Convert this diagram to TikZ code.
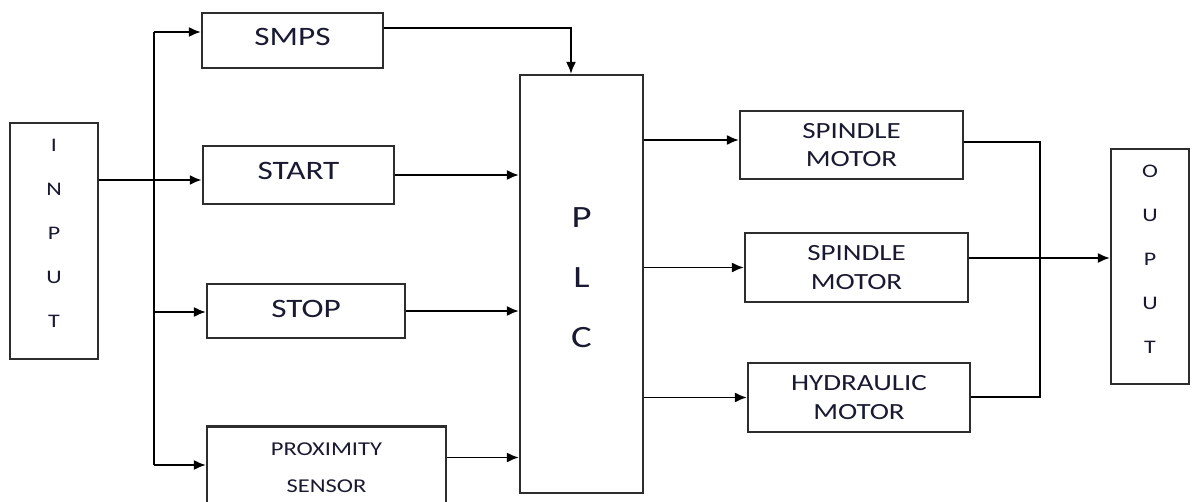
\documentclass[tikz,border=0pt]{standalone}
\usepackage{fontspec}
\setmainfont[FakeStretch=1.25]{Carlito}
\usetikzlibrary{arrows.meta, positioning}
\definecolor{LineGray}{RGB}{45,45,45}
\definecolor{TextNavy}{RGB}{25,25,50}
\newcommand{\lift}[1]{\rule[-#1]{0pt}{0pt}}
\tikzset{
  blk/.style={
    rectangle, draw=LineGray, line width=1.1pt,
    inner sep=0pt, text=TextNavy, align=center
  },
  wire/.style={draw=black, line width=0.9pt},
  arr/.style={-{Latex[length=6pt,width=5pt]}, draw=black, line width=0.9pt},
  big/.style={font=\fontsize{13.3}{16}\selectfont},
  mid/.style={font=\fontsize{11.6}{14.3}\selectfont},
  letters/.style={font=\fontsize{9.6}{22}\selectfont}
}

\begin{document}
\begin{tikzpicture}[x=0.5pt, y=-0.5pt]
  \useasboundingbox (0,0) rectangle (1192,502);

  % Input side
  \node[blk, letters, minimum width=44pt, minimum height=118pt] (inp) at (54,241) {I\\N\\P\\U\\T\lift{8pt}};
  \node[blk, big, minimum width=90.5pt, minimum height=27.5pt] (smps) at (292.5,40.5) {SMPS\lift{4pt}};
  \node[blk, big, minimum width=95.5pt, minimum height=29pt] (start) at (298.5,175) {START\lift{4pt}};
  \node[blk, big, minimum width=99pt, minimum height=27pt] (stop) at (306,311) {STOP\lift{2pt}};
  \node[blk, font=\fontsize{9.8}{18.5}\selectfont, minimum width=119.5pt, minimum height=41pt]
      (prox) at (326.5,467.5) {PROXIMITY\\SENSOR};

  % Controller
  \node[blk, font=\fontsize{15.5}{30}\selectfont, minimum width=61.5pt, minimum height=209pt]
      (plc) at (581.5,284) {P\\L\\C\lift{6.5pt}};

  % Output side
  \node[blk, mid, minimum width=111.5pt, minimum height=34pt] (sm1) at (851.5,145) {SPINDLE\\MOTOR};
  \node[blk, mid, minimum width=111.5pt, minimum height=34.5pt] (sm2) at (856.5,267.5) {SPINDLE\\MOTOR};
  \node[blk, mid, minimum width=111pt, minimum height=34.5pt] (hm) at (859,397.5) {HYDRAULIC\\MOTOR};
  \node[blk, letters, minimum width=39pt, minimum height=117.5pt] (out) at (1150,266.5) {O\\U\\P\\U\\T\lift{7pt}};

  % Input bus
  \coordinate (b1) at (154,32);
  \coordinate (b2) at (154,180);
  \coordinate (b3) at (154,312);
  \coordinate (b4) at (154,465);
  \draw[wire] (b1) -- (b4);
  \draw[arr, line width=1.3pt] (inp.east |- b2) -- (start.west |- b2);
  \draw[arr] (b1) -- (smps.west |- b1);
  \draw[arr] (b3) -- (stop.west |- b3);
  \draw[arr] (b4) -- (prox.west |- b4);

  % Into the PLC
  \coordinate (sp) at (571,28);
  \coordinate (px) at ([yshift=5pt]prox.east);
  \draw[arr] (smps.east |- sp) -- (sp) -- (plc.north -| sp);
  \draw[arr] (start.east) -- (plc.west |- start.east);
  \draw[arr] (stop.east) -- (plc.west |- stop.east);
  \draw[arr] (px) -- (plc.west |- px);

  % Out of the PLC
  \coordinate (s1) at ([yshift=2.5pt]sm1.west);
  \draw[arr] (plc.east |- s1) -- (s1);
  \draw[arr] (plc.east |- sm2.west) -- (sm2.west);
  \draw[arr] (plc.east |- hm.west) -- (hm.west);

  % Output bus
  \coordinate (o1) at (1040,142);
  \coordinate (o2) at (1040,397);
  \coordinate (o3) at (1040,258);
  \draw[wire] (sm1.east |- o1) -- (o1) -- (o2) -- (hm.east |- o2);
  \draw[arr] (sm2.east |- o3) -- (out.west |- o3);
\end{tikzpicture}
\end{document}
